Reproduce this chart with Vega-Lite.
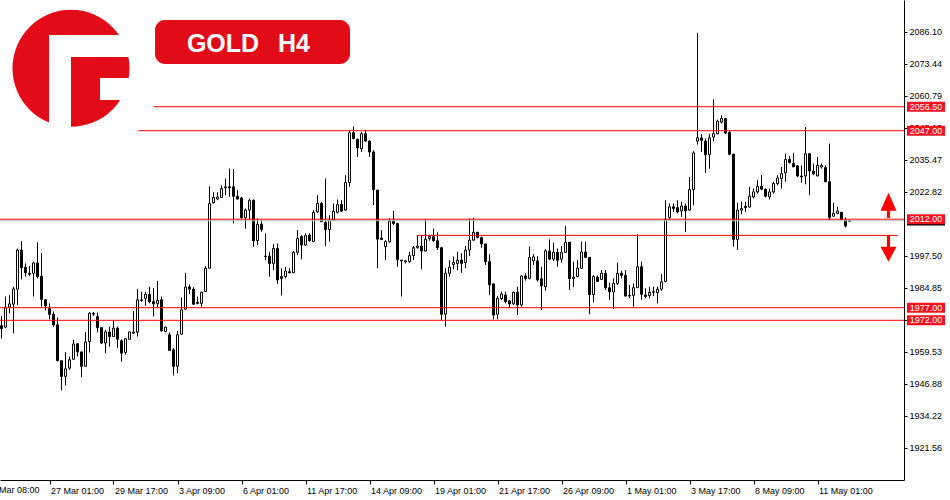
{
  "$schema": "https://vega.github.io/schema/vega-lite/v6.json",
  "width": 904,
  "height": 480,
  "autosize": {"type": "none"},
  "padding": {"left": 0, "top": 0, "right": 46, "bottom": 20},
  "background": "white",
  "config": {"view": {"stroke": null}},
  "resolve": {"axis": {"x": "independent", "y": "independent"}},
  "datasets": {
    "candles": [
      {"i":0,"o":1969.9,"h":1973.7,"l":1964.8,"c":1968.7},
      {"i":1,"o":1969.3,"h":1981.4,"l":1968.9,"c":1977.0},
      {"i":2,"o":1977.2,"h":1982.0,"l":1974.8,"c":1978.5},
      {"i":3,"o":1978.4,"h":1985.3,"l":1966.9,"c":1984.4},
      {"i":4,"o":1984.3,"h":2000.4,"l":1978.1,"c":1999.8},
      {"i":5,"o":1999.8,"h":2003.3,"l":1988.2,"c":1992.8},
      {"i":6,"o":1993.0,"h":1994.5,"l":1989.3,"c":1990.8},
      {"i":7,"o":1990.6,"h":1993.5,"l":1989.5,"c":1990.2},
      {"i":8,"o":1990.6,"h":1995.2,"l":1981.4,"c":1994.7},
      {"i":9,"o":1994.7,"h":2002.9,"l":1988.6,"c":1989.3},
      {"i":10,"o":1989.4,"h":1998.6,"l":1977.4,"c":1980.3},
      {"i":11,"o":1980.1,"h":1980.3,"l":1975.9,"c":1977.7},
      {"i":12,"o":1976.6,"h":1978.7,"l":1972.4,"c":1974.4},
      {"i":13,"o":1974.4,"h":1975.5,"l":1969.5,"c":1970.2},
      {"i":14,"o":1970.2,"h":1973.1,"l":1955.7,"c":1956.1},
      {"i":15,"o":1956.0,"h":1956.0,"l":1944.3,"c":1949.8},
      {"i":16,"o":1949.8,"h":1959.4,"l":1946.3,"c":1952.8},
      {"i":17,"o":1953.1,"h":1957.7,"l":1952.4,"c":1956.4},
      {"i":18,"o":1956.6,"h":1964.3,"l":1956.4,"c":1962.6},
      {"i":19,"o":1962.7,"h":1963.0,"l":1957.7,"c":1959.5},
      {"i":20,"o":1959.5,"h":1959.5,"l":1949.5,"c":1953.8},
      {"i":21,"o":1953.8,"h":1967.3,"l":1953.8,"c":1963.4},
      {"i":22,"o":1963.6,"h":1975.2,"l":1959.3,"c":1974.8},
      {"i":23,"o":1974.4,"h":1975.3,"l":1973.7,"c":1974.8},
      {"i":24,"o":1973.5,"h":1975.1,"l":1967.2,"c":1969.1},
      {"i":25,"o":1969.1,"h":1969.1,"l":1962.7,"c":1963.0},
      {"i":26,"o":1963.0,"h":1968.2,"l":1959.0,"c":1967.4},
      {"i":27,"o":1967.4,"h":1969.5,"l":1961.6,"c":1965.6},
      {"i":28,"o":1965.6,"h":1971.8,"l":1965.6,"c":1968.9},
      {"i":29,"o":1968.9,"h":1969.5,"l":1961.0,"c":1964.5},
      {"i":30,"o":1963.9,"h":1964.5,"l":1955.7,"c":1959.0},
      {"i":31,"o":1959.3,"h":1964.9,"l":1958.4,"c":1964.7},
      {"i":32,"o":1964.5,"h":1967.6,"l":1964.3,"c":1967.4},
      {"i":33,"o":1966.9,"h":1975.7,"l":1966.6,"c":1967.4},
      {"i":34,"o":1967.3,"h":1984.4,"l":1965.6,"c":1980.1},
      {"i":35,"o":1979.8,"h":1983.3,"l":1979.4,"c":1980.1},
      {"i":36,"o":1980.7,"h":1983.3,"l":1977.7,"c":1982.3},
      {"i":37,"o":1982.3,"h":1985.3,"l":1978.7,"c":1979.3},
      {"i":38,"o":1979.4,"h":1984.7,"l":1973.5,"c":1978.5},
      {"i":39,"o":1978.7,"h":1987.6,"l":1976.8,"c":1979.9},
      {"i":40,"o":1980.1,"h":1981.4,"l":1967.6,"c":1967.8},
      {"i":41,"o":1967.6,"h":1969.5,"l":1967.2,"c":1969.3},
      {"i":42,"o":1966.3,"h":1967.2,"l":1960.1,"c":1960.1},
      {"i":43,"o":1960.3,"h":1961.0,"l":1950.2,"c":1953.8},
      {"i":44,"o":1953.8,"h":1967.8,"l":1951.1,"c":1966.3},
      {"i":45,"o":1966.5,"h":1981.0,"l":1966.5,"c":1976.1},
      {"i":46,"o":1976.4,"h":1990.8,"l":1976.1,"c":1985.2},
      {"i":47,"o":1985.2,"h":1986.2,"l":1982.4,"c":1984.3},
      {"i":48,"o":1984.3,"h":1985.1,"l":1978.1,"c":1978.4},
      {"i":49,"o":1979.1,"h":1981.4,"l":1978.4,"c":1978.6},
      {"i":50,"o":1978.7,"h":1983.4,"l":1977.4,"c":1983.1},
      {"i":51,"o":1983.4,"h":1993.5,"l":1983.4,"c":1992.6},
      {"i":52,"o":1992.6,"h":2025.0,"l":1992.6,"c":2018.2},
      {"i":53,"o":2018.5,"h":2022.7,"l":2018.2,"c":2020.6},
      {"i":54,"o":2020.0,"h":2022.7,"l":2019.5,"c":2020.8},
      {"i":55,"o":2020.6,"h":2025.4,"l":2020.4,"c":2024.1},
      {"i":56,"o":2024.4,"h":2028.1,"l":2021.5,"c":2024.8},
      {"i":57,"o":2024.8,"h":2032.0,"l":2020.8,"c":2024.4},
      {"i":58,"o":2024.8,"h":2031.8,"l":2010.3,"c":2021.1},
      {"i":59,"o":2021.1,"h":2023.5,"l":2019.8,"c":2020.0},
      {"i":60,"o":2020.4,"h":2020.8,"l":2012.3,"c":2012.6},
      {"i":61,"o":2012.6,"h":2016.2,"l":2008.3,"c":2015.6},
      {"i":62,"o":2015.6,"h":2020.2,"l":2011.9,"c":2019.5},
      {"i":63,"o":2019.5,"h":2019.8,"l":2001.1,"c":2003.5},
      {"i":64,"o":2003.5,"h":2012.3,"l":2001.8,"c":2010.0},
      {"i":65,"o":2010.0,"h":2011.6,"l":2007.0,"c":2007.9},
      {"i":66,"o":1997.4,"h":2006.4,"l":1995.8,"c":1997.2},
      {"i":67,"o":1997.4,"h":1999.1,"l":1989.3,"c":1994.5},
      {"i":68,"o":1994.5,"h":2002.2,"l":1991.9,"c":2000.4},
      {"i":69,"o":2000.4,"h":2002.4,"l":1986.4,"c":1988.0},
      {"i":70,"o":1989.3,"h":1992.6,"l":1981.8,"c":1988.6},
      {"i":71,"o":1989.3,"h":1993.0,"l":1988.6,"c":1991.5},
      {"i":72,"o":1991.2,"h":1992.6,"l":1990.6,"c":1990.8},
      {"i":73,"o":1990.8,"h":1999.4,"l":1990.8,"c":1998.9},
      {"i":74,"o":1998.9,"h":2007.7,"l":1997.8,"c":2004.4},
      {"i":75,"o":2005.1,"h":2005.7,"l":1996.1,"c":2001.8},
      {"i":76,"o":2001.8,"h":2006.4,"l":2001.4,"c":2005.5},
      {"i":77,"o":2005.7,"h":2006.4,"l":2003.1,"c":2003.5},
      {"i":78,"o":2003.2,"h":2015.6,"l":2003.0,"c":2014.7},
      {"i":79,"o":2014.9,"h":2021.5,"l":2014.5,"c":2018.2},
      {"i":80,"o":2018.2,"h":2018.9,"l":2011.0,"c":2011.0},
      {"i":81,"o":2010.7,"h":2028.1,"l":2001.4,"c":2007.9},
      {"i":82,"o":2007.9,"h":2013.6,"l":2003.1,"c":2011.6},
      {"i":83,"o":2011.6,"h":2018.2,"l":2011.6,"c":2015.1},
      {"i":84,"o":2014.7,"h":2019.8,"l":2014.3,"c":2017.8},
      {"i":85,"o":2017.8,"h":2019.5,"l":2014.9,"c":2015.2},
      {"i":86,"o":2015.6,"h":2029.4,"l":2015.3,"c":2026.5},
      {"i":87,"o":2026.5,"h":2047.1,"l":2024.8,"c":2046.2},
      {"i":88,"o":2046.2,"h":2048.7,"l":2043.6,"c":2043.9},
      {"i":89,"o":2043.6,"h":2043.9,"l":2036.6,"c":2040.2},
      {"i":90,"o":2039.9,"h":2046.5,"l":2038.6,"c":2045.8},
      {"i":91,"o":2045.8,"h":2047.4,"l":2042.5,"c":2042.9},
      {"i":92,"o":2042.9,"h":2043.2,"l":2036.6,"c":2038.6},
      {"i":93,"o":2038.6,"h":2039.3,"l":2017.6,"c":2023.7},
      {"i":94,"o":2023.5,"h":2023.5,"l":1992.6,"c":2004.1},
      {"i":95,"o":2004.5,"h":2007.7,"l":2003.7,"c":2004.0},
      {"i":96,"o":2001.1,"h":2003.7,"l":1995.8,"c":2003.1},
      {"i":97,"o":2003.1,"h":2012.3,"l":2002.7,"c":2011.2},
      {"i":98,"o":2011.2,"h":2015.3,"l":2009.7,"c":2010.3},
      {"i":99,"o":2010.3,"h":2010.6,"l":1993.2,"c":1996.1},
      {"i":100,"o":1995.8,"h":1995.8,"l":1981.4,"c":1995.5},
      {"i":101,"o":1995.1,"h":1995.8,"l":1994.5,"c":1995.5},
      {"i":102,"o":1995.2,"h":1999.1,"l":1994.8,"c":1997.6},
      {"i":103,"o":1997.6,"h":2001.4,"l":1995.8,"c":2000.7},
      {"i":104,"o":2000.7,"h":2005.6,"l":2000.4,"c":2001.4},
      {"i":105,"o":2001.4,"h":2005.7,"l":1992.2,"c":1999.4},
      {"i":106,"o":1999.4,"h":2012.0,"l":1999.1,"c":2004.1},
      {"i":107,"o":2004.4,"h":2005.7,"l":2003.5,"c":2005.1},
      {"i":108,"o":2005.1,"h":2008.3,"l":2003.1,"c":2003.5},
      {"i":109,"o":2003.5,"h":2006.8,"l":1999.8,"c":2000.7},
      {"i":110,"o":2000.7,"h":2001.1,"l":1972.2,"c":1974.4},
      {"i":111,"o":1974.4,"h":1992.6,"l":1969.5,"c":1990.6},
      {"i":112,"o":1990.6,"h":1995.8,"l":1989.3,"c":1993.0},
      {"i":113,"o":1994.1,"h":1997.2,"l":1992.2,"c":1994.9},
      {"i":114,"o":1994.5,"h":1999.1,"l":1991.9,"c":1995.8},
      {"i":115,"o":1995.8,"h":1998.5,"l":1990.8,"c":1994.5},
      {"i":116,"o":1994.8,"h":2001.4,"l":1992.6,"c":1999.8},
      {"i":117,"o":1999.8,"h":2012.3,"l":1997.4,"c":2003.7},
      {"i":118,"o":2003.7,"h":2012.5,"l":2003.5,"c":2006.8},
      {"i":119,"o":2006.8,"h":2007.0,"l":2004.4,"c":2004.8},
      {"i":120,"o":2004.7,"h":2005.1,"l":2000.7,"c":2002.2},
      {"i":121,"o":2002.2,"h":2002.4,"l":1993.9,"c":1995.2},
      {"i":122,"o":1995.2,"h":1998.2,"l":1982.0,"c":1986.0},
      {"i":123,"o":1986.4,"h":1986.6,"l":1972.4,"c":1974.1},
      {"i":124,"o":1974.4,"h":1981.6,"l":1972.4,"c":1980.7},
      {"i":125,"o":1980.6,"h":1983.3,"l":1980.1,"c":1982.4},
      {"i":126,"o":1982.0,"h":1983.3,"l":1978.7,"c":1979.4},
      {"i":127,"o":1979.7,"h":1980.1,"l":1976.8,"c":1978.5},
      {"i":128,"o":1978.5,"h":1983.3,"l":1978.1,"c":1983.1},
      {"i":129,"o":1983.1,"h":1985.3,"l":1974.1,"c":1978.1},
      {"i":130,"o":1978.1,"h":1989.9,"l":1977.4,"c":1989.5},
      {"i":131,"o":1989.5,"h":1990.6,"l":1987.7,"c":1988.6},
      {"i":132,"o":1988.6,"h":2001.1,"l":1988.2,"c":1996.9},
      {"i":133,"o":1995.5,"h":1998.2,"l":1993.9,"c":1997.1},
      {"i":134,"o":1995.5,"h":1997.4,"l":1987.3,"c":1988.0},
      {"i":135,"o":1988.4,"h":1993.2,"l":1976.1,"c":1985.6},
      {"i":136,"o":1985.3,"h":2000.1,"l":1983.7,"c":1999.5},
      {"i":137,"o":1999.4,"h":2004.0,"l":1995.8,"c":1996.2},
      {"i":138,"o":1996.2,"h":2002.7,"l":1995.5,"c":1998.9},
      {"i":139,"o":1998.9,"h":2000.4,"l":1993.2,"c":1995.8},
      {"i":140,"o":1996.2,"h":2001.4,"l":1994.8,"c":1998.9},
      {"i":141,"o":1998.9,"h":2009.4,"l":1998.6,"c":2002.9},
      {"i":142,"o":2002.9,"h":2002.9,"l":1984.0,"c":1988.5},
      {"i":143,"o":1988.5,"h":1995.2,"l":1985.1,"c":1989.1},
      {"i":144,"o":1989.3,"h":1995.8,"l":1989.0,"c":1992.6},
      {"i":145,"o":1992.6,"h":2003.1,"l":1992.3,"c":1999.0},
      {"i":146,"o":1999.0,"h":2003.1,"l":1996.8,"c":1996.9},
      {"i":147,"o":1996.9,"h":1996.9,"l":1974.4,"c":1982.2},
      {"i":148,"o":1982.2,"h":1989.9,"l":1979.1,"c":1989.3},
      {"i":149,"o":1989.0,"h":1989.8,"l":1987.2,"c":1987.4},
      {"i":150,"o":1988.2,"h":1991.9,"l":1988.0,"c":1990.6},
      {"i":151,"o":1990.6,"h":1991.9,"l":1984.0,"c":1984.9},
      {"i":152,"o":1984.9,"h":1986.9,"l":1980.1,"c":1983.3},
      {"i":153,"o":1983.2,"h":1988.6,"l":1976.4,"c":1986.6},
      {"i":154,"o":1986.6,"h":1994.8,"l":1986.0,"c":1990.6},
      {"i":155,"o":1990.6,"h":1991.6,"l":1988.6,"c":1989.8},
      {"i":156,"o":1989.8,"h":1991.9,"l":1981.4,"c":1981.6},
      {"i":157,"o":1981.6,"h":1986.0,"l":1980.7,"c":1981.9},
      {"i":158,"o":1981.9,"h":1986.6,"l":1977.4,"c":1984.9},
      {"i":159,"o":1984.9,"h":2006.0,"l":1984.9,"c":1993.2},
      {"i":160,"o":1993.2,"h":1995.2,"l":1980.1,"c":1982.3},
      {"i":161,"o":1982.0,"h":1984.7,"l":1980.7,"c":1981.4},
      {"i":162,"o":1981.8,"h":1985.3,"l":1980.7,"c":1983.1},
      {"i":163,"o":1983.1,"h":1985.3,"l":1981.6,"c":1983.3},
      {"i":164,"o":1983.0,"h":1985.3,"l":1978.7,"c":1984.3},
      {"i":165,"o":1984.3,"h":1990.3,"l":1983.7,"c":1987.2},
      {"i":166,"o":1987.3,"h":2019.5,"l":1987.3,"c":2012.0},
      {"i":167,"o":2012.7,"h":2018.2,"l":2011.6,"c":2016.9},
      {"i":168,"o":2016.9,"h":2018.2,"l":2014.9,"c":2016.2},
      {"i":169,"o":2016.6,"h":2019.5,"l":2014.3,"c":2014.9},
      {"i":170,"o":2015.3,"h":2018.9,"l":2012.9,"c":2017.2},
      {"i":171,"o":2017.2,"h":2018.2,"l":2007.0,"c":2015.3},
      {"i":172,"o":2015.6,"h":2028.7,"l":2015.3,"c":2023.7},
      {"i":173,"o":2023.7,"h":2038.9,"l":2017.5,"c":2038.2},
      {"i":174,"o":2042.9,"h":2085.7,"l":2041.5,"c":2044.2},
      {"i":175,"o":2044.2,"h":2045.6,"l":2038.6,"c":2043.2},
      {"i":176,"o":2042.9,"h":2043.9,"l":2030.3,"c":2037.5},
      {"i":177,"o":2037.5,"h":2045.8,"l":2032.0,"c":2044.2},
      {"i":178,"o":2044.5,"h":2059.4,"l":2042.9,"c":2045.8},
      {"i":179,"o":2045.8,"h":2051.4,"l":2045.6,"c":2050.8},
      {"i":180,"o":2050.4,"h":2053.1,"l":2049.8,"c":2051.8},
      {"i":181,"o":2051.8,"h":2052.1,"l":2045.6,"c":2046.1},
      {"i":182,"o":2046.3,"h":2046.8,"l":2037.3,"c":2037.7},
      {"i":183,"o":2037.7,"h":2037.9,"l":2001.1,"c":2004.0},
      {"i":184,"o":2004.0,"h":2018.5,"l":1999.8,"c":2015.6},
      {"i":185,"o":2015.6,"h":2018.9,"l":2013.9,"c":2016.2},
      {"i":186,"o":2017.1,"h":2018.9,"l":2014.9,"c":2016.6},
      {"i":187,"o":2016.8,"h":2024.8,"l":2016.6,"c":2021.1},
      {"i":188,"o":2020.8,"h":2024.1,"l":2020.2,"c":2022.8},
      {"i":189,"o":2022.8,"h":2027.4,"l":2022.1,"c":2025.0},
      {"i":190,"o":2025.0,"h":2029.4,"l":2023.5,"c":2023.9},
      {"i":191,"o":2023.9,"h":2024.1,"l":2020.6,"c":2021.1},
      {"i":192,"o":2020.8,"h":2024.1,"l":2019.8,"c":2022.8},
      {"i":193,"o":2022.8,"h":2026.8,"l":2022.1,"c":2026.1},
      {"i":194,"o":2026.1,"h":2029.4,"l":2025.4,"c":2028.3},
      {"i":195,"o":2028.1,"h":2032.7,"l":2024.1,"c":2030.0},
      {"i":196,"o":2030.3,"h":2037.9,"l":2026.8,"c":2035.6},
      {"i":197,"o":2035.6,"h":2037.0,"l":2034.0,"c":2034.4},
      {"i":198,"o":2034.0,"h":2038.2,"l":2032.7,"c":2032.7},
      {"i":199,"o":2033.1,"h":2033.3,"l":2028.7,"c":2029.1},
      {"i":200,"o":2029.1,"h":2033.3,"l":2026.4,"c":2028.7},
      {"i":201,"o":2029.1,"h":2048.5,"l":2025.8,"c":2037.9},
      {"i":202,"o":2037.9,"h":2037.9,"l":2021.5,"c":2031.1},
      {"i":203,"o":2031.0,"h":2034.0,"l":2029.4,"c":2030.0},
      {"i":204,"o":2029.1,"h":2036.6,"l":2029.0,"c":2033.3},
      {"i":205,"o":2032.7,"h":2034.0,"l":2032.0,"c":2033.3},
      {"i":206,"o":2032.4,"h":2033.3,"l":2026.8,"c":2026.8},
      {"i":207,"o":2026.8,"h":2041.9,"l":2011.6,"c":2012.7},
      {"i":208,"o":2013.2,"h":2018.5,"l":2012.9,"c":2014.3},
      {"i":209,"o":2014.3,"h":2016.9,"l":2014.0,"c":2015.2},
      {"i":210,"o":2014.7,"h":2014.9,"l":2011.6,"c":2011.9},
      {"i":211,"o":2011.6,"h":2012.7,"l":2008.7,"c":2009.3},
      {"i":212,"o":2011.2,"h":2011.8,"l":2011.0,"c":2011.4}
    ],
    "levels": [
      {"p":2056.5,"s":38,"e":225.625},
      {"p":2047.0,"s":34.2,"e":225.625},
      {"p":2012.0,"s":-0.375,"e":225.625},
      {"p":2005.6,"s":104,"e":224},
      {"p":1977.0,"s":-0.375,"e":225.625},
      {"p":1972.0,"s":-0.375,"e":225.625}
    ],
    "tags": [
      {"p":2056.5,"lab":"2056.50"},
      {"p":2047.0,"lab":"2047.00"},
      {"p":2012.0,"lab":"2012.00"},
      {"p":1977.0,"lab":"1977.00"},
      {"p":1972.0,"lab":"1972.00"}
    ]
  },
  "layer": [
    {
      "data": {"name": "candles"},
      "mark": {"type": "rule", "color": "black", "strokeWidth": 1},
      "encoding": {
        "x": {
          "field": "i", "type": "quantitative",
          "scale": {"domain": [-0.375, 225.625], "nice": false, "zero": false, "padding": 0},
          "axis": {
            "values": [12, 28, 44, 60, 76, 92, 108, 124, 140, 156, 172, 188, 204],
            "labelExpr": "['27 Mar 01:00','29 Mar 17:00','3 Apr 09:00','6 Apr 01:00','11 Apr 17:00','14 Apr 09:00','19 Apr 01:00','21 Apr 17:00','26 Apr 09:00','1 May 01:00','3 May 17:00','8 May 09:00','11 May 01:00'][(datum.value-12)/16]",
            "title": null, "grid": false,
            "domainColor": "black", "domainWidth": 1,
            "tickColor": "black", "tickSize": 4, "tickWidth": 1,
            "labelAlign": "left", "labelBaseline": "middle", "labelPadding": 6, "labelOffset": 1,
            "labelFont": "Liberation Sans", "labelFontSize": 9, "labelColor": "black",
            "labelOverlap": false, "labelFlush": false
          }
        },
        "y": {
          "field": "l", "type": "quantitative",
          "scale": {"domain": [1908.83, 2098.71], "nice": false, "zero": false, "padding": 0},
          "axis": {
            "orient": "right",
            "values": [2086.10, 2073.44, 2060.79, 2048.13, 2035.47, 2022.82, 1997.50, 1984.85, 1972.19, 1959.53, 1946.88, 1934.22, 1921.56],
            "format": ".2f",
            "title": null, "grid": false,
            "domainColor": "black", "domainWidth": 1,
            "tickColor": "black", "tickSize": 3, "tickWidth": 1,
            "labelPadding": 2, "labelBaseline": "middle",
            "labelFont": "Liberation Sans", "labelFontSize": 9, "labelColor": "black",
            "labelOverlap": false, "labelFlush": false
          }
        },
        "y2": {"field": "h"}
      }
    },
    {
      "data": {"name": "candles"},
      "mark": {"type": "bar", "orient": "vertical", "size": 2, "stroke": "black", "strokeWidth": 1},
      "encoding": {
        "x": {"field": "i", "type": "quantitative", "axis": null},
        "y": {"field": "o", "type": "quantitative", "axis": null},
        "y2": {"field": "c"},
        "fill": {"condition": {"test": "datum.c < datum.o", "value": "black"}, "value": "white"}
      }
    },
    {
      "data": {"values": [{}]},
      "mark": {"type": "rule", "color": "#c0c0c0", "strokeWidth": 1},
      "encoding": {
        "x": {"datum": -0.375, "type": "quantitative", "axis": null},
        "x2": {"datum": 225.625},
        "y": {"datum": 2011.4, "type": "quantitative", "axis": null}
      }
    },
    {
      "data": {"name": "levels"},
      "mark": {"type": "rule", "color": "#ff0000", "strokeWidth": 1},
      "encoding": {
        "x": {"field": "s", "type": "quantitative", "axis": null},
        "x2": {"field": "e"},
        "y": {"field": "p", "type": "quantitative", "axis": null}
      }
    },
    {
      "data": {"values": [{}]},
      "mark": {"type": "point", "shape": "circle", "filled": true, "size": 13689, "color": "#e20b18", "opacity": 1, "strokeWidth": 0},
      "encoding": {
        "x": {"datum": 17.375, "type": "quantitative", "axis": null},
        "y": {"datum": 2071.69, "type": "quantitative", "axis": null}
      }
    },
    {
      "data": {"values": [{}]},
      "mark": {"type": "rect", "color": "white"},
      "encoding": {
        "x": {"datum": 11.875, "type": "quantitative", "axis": null},
        "x2": {"datum": 17.375},
        "y": {"datum": 2084.87, "type": "quantitative", "axis": null},
        "y2": {"datum": 2047.29}
      }
    },
    {
      "data": {"values": [{}]},
      "mark": {"type": "rect", "color": "white"},
      "encoding": {
        "x": {"datum": 11.875, "type": "quantitative", "axis": null},
        "x2": {"datum": 33.375},
        "y": {"datum": 2084.87, "type": "quantitative", "axis": null},
        "y2": {"datum": 2076.16}
      }
    },
    {
      "data": {"values": [{}]},
      "mark": {"type": "rect", "color": "white"},
      "encoding": {
        "x": {"datum": 24.625, "type": "quantitative", "axis": null},
        "x2": {"datum": 33.375},
        "y": {"datum": 2067.86, "type": "quantitative", "axis": null},
        "y2": {"datum": 2059.15}
      }
    },
    {
      "data": {"values": [{}]},
      "mark": {"type": "rect", "color": "#e20b18", "cornerRadius": 10},
      "encoding": {
        "x": {"datum": 38.375, "type": "quantitative", "axis": null},
        "x2": {"datum": 87.125},
        "y": {"datum": 2090.8, "type": "quantitative", "axis": null},
        "y2": {"datum": 2073.39}
      }
    },
    {
      "data": {"values": [{}]},
      "mark": {"type": "text", "text": "GOLD", "color": "white", "font": "Liberation Sans", "fontWeight": "bold", "fontSize": 25, "align": "center", "baseline": "middle"},
      "encoding": {
        "x": {"datum": 55.375, "type": "quantitative", "axis": null},
        "y": {"datum": 2081.2, "type": "quantitative", "axis": null}
      }
    },
    {
      "data": {"values": [{}]},
      "mark": {"type": "text", "text": "H4", "color": "white", "font": "Liberation Sans", "fontWeight": "bold", "fontSize": 25, "align": "center", "baseline": "middle"},
      "encoding": {
        "x": {"datum": 73.125, "type": "quantitative", "axis": null},
        "y": {"datum": 2081.2, "type": "quantitative", "axis": null}
      }
    },
    {
      "data": {"values": [{}]},
      "mark": {"type": "rule", "color": "black", "strokeWidth": 1.5, "yOffset": 5.5},
      "encoding": {
        "x": {"datum": 226.375, "type": "quantitative", "axis": null},
        "x2": {"datum": 235.875},
        "y": {"datum": 2012.0, "type": "quantitative", "axis": null}
      }
    },
    {
      "data": {"name": "tags"},
      "mark": {"type": "rect", "color": "#f5121c", "yOffset": -5, "y2Offset": 5},
      "encoding": {
        "x": {"datum": 226.375, "type": "quantitative", "axis": null},
        "x2": {"datum": 235.875},
        "y": {"field": "p", "type": "quantitative", "axis": null},
        "y2": {"field": "p"}
      }
    },
    {
      "data": {"name": "tags"},
      "mark": {"type": "text", "color": "white", "font": "Liberation Sans", "fontSize": 9, "align": "center", "baseline": "middle"},
      "encoding": {
        "x": {"datum": 231.1, "type": "quantitative", "axis": null},
        "y": {"field": "p", "type": "quantitative", "axis": null},
        "text": {"field": "lab"}
      }
    },
    {
      "data": {"values": [{}]},
      "mark": {"type": "point", "shape": "M0,-1.58L1,0.67L0.2,0.67L0.2,1.58L-0.2,1.58L-0.2,0.67L-1,0.67Z", "filled": true, "size": 256, "color": "#ff0000", "opacity": 1, "strokeWidth": 0},
      "encoding": {
        "x": {"datum": 221.75, "type": "quantitative", "axis": null},
        "y": {"datum": 2017.48, "type": "quantitative", "axis": null}
      }
    },
    {
      "data": {"values": [{}]},
      "mark": {"type": "point", "shape": "M0,1.67L1,-0.21L0.2,-0.21L0.2,-1.67L-0.2,-1.67L-0.2,-0.21L-1,-0.21Z", "filled": true, "size": 256, "color": "#ff0000", "opacity": 1, "strokeWidth": 0},
      "encoding": {
        "x": {"datum": 221.75, "type": "quantitative", "axis": null},
        "y": {"datum": 2000.47, "type": "quantitative", "axis": null}
      }
    },
    {
      "data": {"values": [{}]},
      "mark": {"type": "text", "text": "22 Mar 08:00", "color": "black", "font": "Liberation Sans", "fontSize": 9, "align": "left", "baseline": "middle", "dx": 1},
      "encoding": {
        "x": {"datum": -4, "type": "quantitative", "axis": null},
        "y": {"datum": 1904.8, "type": "quantitative", "axis": null}
      }
    }
  ]
}
